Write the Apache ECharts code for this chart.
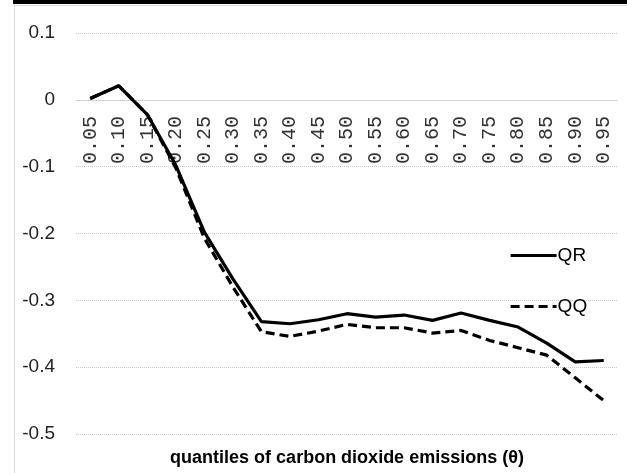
<!DOCTYPE html>
<html>
<head>
<meta charset="utf-8">
<script src="https://cdn.jsdelivr.net/npm/echarts@6/dist/echarts.min.js"></script>
<style>
html,body{margin:0;padding:0;background:#fff;}
#main{width:627px;height:473px;}
</style>
</head>
<body>
<div id="main"></div>
<script>
var categories = ['0.05','0.10','0.15','0.20','0.25','0.30','0.35','0.40','0.45','0.50','0.55','0.60','0.65','0.70','0.75','0.80','0.85','0.90','0.95'];
var qrValues = [0.002, 0.021, -0.022, -0.098, -0.198, -0.268, -0.332, -0.335, -0.329, -0.320, -0.325, -0.322, -0.330, -0.319, -0.330, -0.340, -0.364, -0.392, -0.390];
var qqValues = [0.002, 0.021, -0.022, -0.102, -0.207, -0.280, -0.347, -0.354, -0.346, -0.336, -0.341, -0.341, -0.349, -0.345, -0.360, -0.371, -0.382, -0.416, -0.450];
var yTicks = [-0.5, 0.1, 0.1]; // min, max, interval
var seriesNames = ['QR', 'QQ'];
var axisTitle = 'quantiles of carbon dioxide emissions (\u03B8)';

var chart = echarts.init(document.getElementById('main'), null, {renderer: 'canvas'});
var narrow = '"Liberation Sans Narrow", "Liberation Sans", Arial, sans-serif';
chart.setOption({
  animation: false,
  backgroundColor: '#fff',
  grid: {left: 76, right: 9, top: 33, bottom: 39, containLabel: false, outerBoundsMode: 'none'},
  title: {
    text: axisTitle,
    left: 347, top: 449, textAlign: 'center', padding: 0,
    textStyle: {fontFamily: narrow, fontWeight: 'bold', fontSize: 18, color: '#000'}
  },
  legend: {
    orient: 'vertical', left: 509, top: 246, padding: 0,
    itemWidth: 46, itemHeight: 14, itemGap: 32,
    data: seriesNames,
    itemStyle: {opacity: 0},
    lineStyle: {width: 3.2},
    textStyle: {fontFamily: narrow, fontSize: 19, color: '#000', padding: [0, 0, 0, -4]}
  },
  xAxis: {
    type: 'category', data: categories, boundaryGap: true, position: 'bottom', offset: -334,
    axisLine: {show: true, onZero: false, lineStyle: {color: '#c8c8c8', type: 'dotted', width: 1}},
    axisTick: {show: false},
    axisLabel: {rotate: 90, margin: 16, fontFamily: '"Liberation Mono", "DejaVu Sans Mono", monospace', fontSize: 20, color: '#333'},
    splitLine: {show: false}
  },
  yAxis: {
    type: 'value', min: yTicks[0], max: yTicks[1], interval: yTicks[2],
    axisLine: {show: false}, axisTick: {show: false},
    axisLabel: {margin: 21, fontFamily: narrow, fontSize: 19, color: '#222',
      formatter: function (v) { var s = (+v.toFixed(1)).toString(); return s === '-0' ? '0' : s; }},
    splitLine: {show: true, lineStyle: {color: '#c8c8c8', type: 'dotted', width: 1}}
  },
  series: [
    {name: seriesNames[0], type: 'line', data: qrValues, symbol: 'none', z: 3,
     lineStyle: {color: '#000', width: 3.2, type: 'solid'}, itemStyle: {color: '#000'}},
    {name: seriesNames[1], type: 'line', data: qqValues, symbol: 'none', z: 2,
     lineStyle: {color: '#000', width: 3.2, type: [9, 5]}, itemStyle: {color: '#000'}}
  ],
  graphic: [
    {type: 'rect', shape: {x: 13, y: 0, width: 614, height: 4}, style: {fill: '#000'}, silent: true},
    {type: 'line', shape: {x1: 14, y1: 5.5, x2: 627, y2: 5.5}, style: {stroke: '#dcdcdc', lineWidth: 1}, silent: true},
    {type: 'line', shape: {x1: 14.5, y1: 5, x2: 14.5, y2: 473}, style: {stroke: '#dcdcdc', lineWidth: 1}, silent: true}
  ]
});
</script>
</body>
</html>
